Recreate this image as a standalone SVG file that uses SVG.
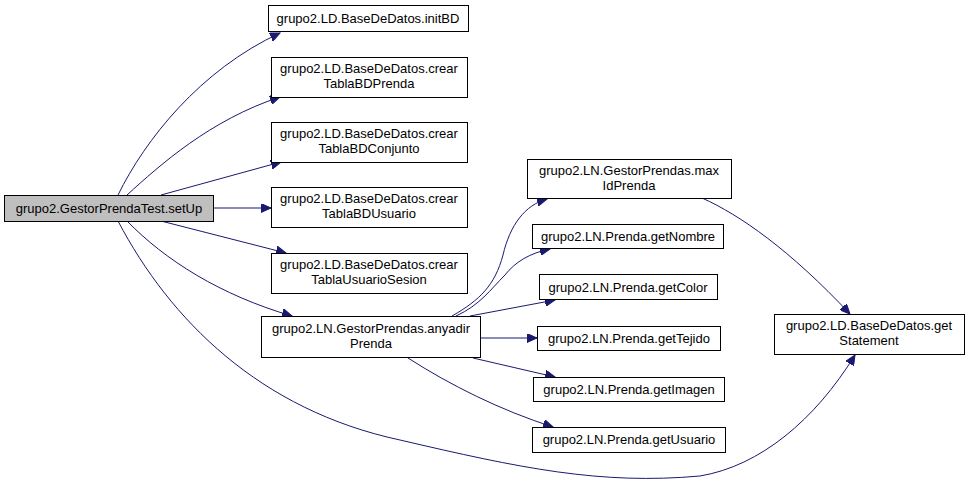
<svg xmlns="http://www.w3.org/2000/svg" width="969" height="490" viewBox="0 0 969 490">
<defs>
<marker id="ah" markerWidth="11" markerHeight="9" refX="10" refY="4.5" orient="auto" markerUnits="userSpaceOnUse">
<path d="M0,0 L10,4.5 L0,9 Z" fill="#191970" stroke="#191970" stroke-width="1"/>
</marker>
<style>
.n rect{fill:#ffffff;stroke:#000000;stroke-width:1}
.n.cur rect{fill:#bfbfbf}
.n text{font-family:"Liberation Sans",Arial,sans-serif;font-size:13px;fill:#000000;text-anchor:middle}
.e path{fill:none;stroke:#191970;stroke-width:1;marker-end:url(#ah)}
</style>
</defs>
<rect width="969" height="490" fill="#ffffff"/>
<g id="edges" class="e">
<path d="M118,195 C145,140 200,70 280,33"/>
<path d="M127,195 C160,165 210,120 280,97"/>
<path d="M161,195 L281,162"/>
<path d="M213,208 L271,208"/>
<path d="M161,221 L286,253"/>
<path d="M127,221 C165,260 220,295 292,316"/>
<path d="M118,221 C170,320 260,410 400,440 C520,468 600,485 700,476 C760,466 815,420 855,355"/>
<path d="M452,316 C480,300 495,285 503,255 C510,225 525,205 547,199"/>
<path d="M456,316 C480,305 490,290 505,275 C515,262 530,253 550,249"/>
<path d="M470,316 L555,300"/>
<path d="M480,338 L537,338"/>
<path d="M473,358 L555,377"/>
<path d="M408,358 C450,385 500,410 553,427"/>
<path d="M702,198 C740,215 790,250 850,314"/>
</g>
<g id="setUp" class="n cur"><rect x="4.5" y="195.5" width="209" height="26"/><text x="109" y="213">grupo2.GestorPrendaTest.setUp</text></g>
<g id="initBD" class="n"><rect x="268.5" y="5.5" width="200" height="26"/><text x="368" y="23">grupo2.LD.BaseDeDatos.initBD</text></g>
<g id="crearTablaBDPrenda" class="n"><rect x="271.5" y="57.5" width="196" height="40"/><text x="369" y="73">grupo2.LD.BaseDeDatos.crear</text><text x="369" y="88">TablaBDPrenda</text></g>
<g id="crearTablaBDConjunto" class="n"><rect x="271.5" y="122.5" width="196" height="40"/><text x="369" y="138">grupo2.LD.BaseDeDatos.crear</text><text x="369" y="153">TablaBDConjunto</text></g>
<g id="crearTablaBDUsuario" class="n"><rect x="271.5" y="187.5" width="196" height="40"/><text x="369" y="203">grupo2.LD.BaseDeDatos.crear</text><text x="369" y="218">TablaBDUsuario</text></g>
<g id="crearTablaUsuarioSesion" class="n"><rect x="271.5" y="253.5" width="196" height="40"/><text x="369" y="269">grupo2.LD.BaseDeDatos.crear</text><text x="369" y="284">TablaUsuarioSesion</text></g>
<g id="anyadirPrenda" class="n"><rect x="261.5" y="316.5" width="219" height="41"/><text x="371" y="333">grupo2.LN.GestorPrendas.anyadir</text><text x="371" y="348">Prenda</text></g>
<g id="maxIdPrenda" class="n"><rect x="527.5" y="159.5" width="204" height="39"/><text x="629" y="175">grupo2.LN.GestorPrendas.max</text><text x="629" y="190">IdPrenda</text></g>
<g id="getNombre" class="n"><rect x="532.5" y="224.5" width="191" height="24"/><text x="628" y="241">grupo2.LN.Prenda.getNombre</text></g>
<g id="getColor" class="n"><rect x="539.5" y="274.5" width="178" height="25"/><text x="628" y="292">grupo2.LN.Prenda.getColor</text></g>
<g id="getTejido" class="n"><rect x="537.5" y="326.5" width="183" height="24"/><text x="629" y="343">grupo2.LN.Prenda.getTejido</text></g>
<g id="getImagen" class="n"><rect x="533.5" y="377.5" width="191" height="24"/><text x="629" y="394">grupo2.LN.Prenda.getImagen</text></g>
<g id="getUsuario" class="n"><rect x="532.5" y="427.5" width="193" height="25"/><text x="629" y="444">grupo2.LN.Prenda.getUsuario</text></g>
<g id="getStatement" class="n"><rect x="774.5" y="314.5" width="190" height="40"/><text x="869" y="330">grupo2.LD.BaseDeDatos.get</text><text x="869" y="345">Statement</text></g>
</svg>
